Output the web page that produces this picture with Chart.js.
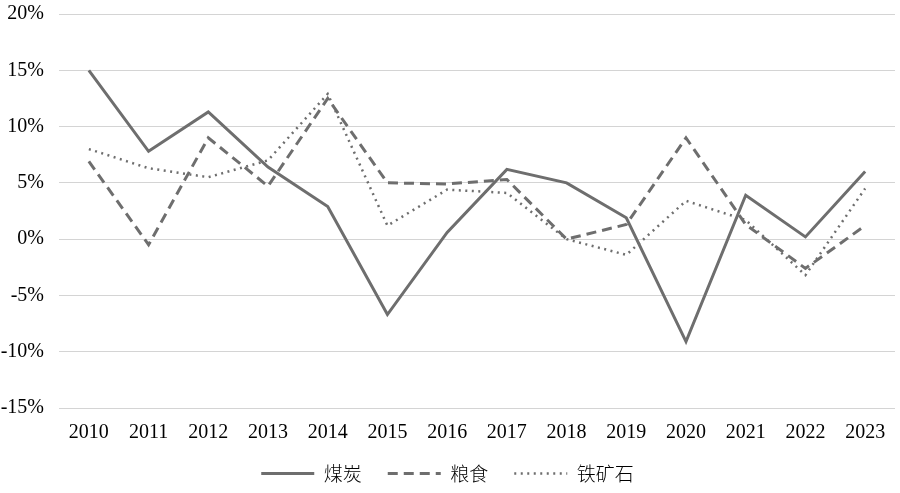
<!DOCTYPE html>
<html lang="zh">
<head>
    <meta charset="UTF-8">
    <title>煤炭、粮食、铁矿石</title>
    <script src="https://cdn.jsdelivr.net/npm/chart.js"></script>
    <style>
        html, body { margin: 0; padding: 0; background: #fff; }
        .wrap { width: 900px; height: 493px; }
    </style>
</head>
<body>
    <div class="wrap"><canvas id="plot"></canvas></div>

    <script>
        // data (%)
        const years = ['2010', '2011', '2012', '2013', '2014', '2015', '2016',
                       '2017', '2018', '2019', '2020', '2021', '2022', '2023'];
        const coal  = [15.0, 7.8, 11.3, 6.4, 2.9, -6.7, 0.6, 6.2, 5.0, 1.9, -9.1, 3.9, 0.2, 6.0];
        const grain = [6.9, -0.5, 9.0, 4.7, 12.5, 5.0, 4.9, 5.3, 0.0, 1.3, 9.0, 1.3, -2.6, 1.2];
        const iron  = [8.0, 6.3, 5.5, 7.0, 12.9, 1.2, 4.4, 4.1, 0.0, -1.4, 3.4, 1.7, -3.2, 4.5];
        const seriesNames = ['煤炭', '粮食', '铁矿石'];
        const yTicks = { min: -15, max: 20, step: 5 };

        const lineGray = '#6e6e6e';
        const fontFamily = '"Liberation Serif", "Noto Sans CJK SC", serif';

        Chart.defaults.font.family = fontFamily;
        Chart.defaults.color = '#000';

        // legend box is a zero-height rect, so its stroke is a dashed line;
        // 53px wide keeps the back-and-forth dashes lined up
        const ctx = document.getElementById('plot').getContext('2d');
        new Chart(ctx, {
            type: 'line',
            data: {
                labels: years,
                datasets: [
                    {
                        label: seriesNames[0],
                        data: coal,
                        borderColor: lineGray,
                        backgroundColor: 'transparent',
                        borderWidth: 3,
                        pointRadius: 0,
                        fill: false
                    },
                    {
                        label: seriesNames[1],
                        data: grain,
                        borderColor: lineGray,
                        backgroundColor: 'transparent',
                        borderWidth: 3,
                        borderDash: [10, 6],
                        pointRadius: 0,
                        fill: false
                    },
                    {
                        label: seriesNames[2],
                        data: iron,
                        borderColor: lineGray,
                        backgroundColor: 'transparent',
                        borderWidth: 2.5,
                        borderDash: [2, 4.5],
                        pointRadius: 0,
                        fill: false
                    }
                ]
            },
            options: {
                responsive: true,
                maintainAspectRatio: false,
                animation: false,
                layout: { padding: { top: 14, right: 5, bottom: 0, left: 0 } },
                plugins: {
                    tooltip: { enabled: false },
                    legend: {
                        position: 'bottom',
                        labels: {
                            boxWidth: 53,
                            boxHeight: 0,
                            padding: 26,
                            color: '#000',
                            font: { family: '"Noto Sans CJK SC", serif', size: 19, weight: 300 }
                        }
                    }
                },
                scales: {
                    x: {
                        offset: true,
                        afterFit: (scale) => { scale.height = 30; },
                        grid: { display: false },
                        border: { display: false },
                        ticks: {
                            color: '#000',
                            padding: 5,
                            maxRotation: 0,
                            font: { size: 20 }
                        }
                    },
                    y: {
                        min: yTicks.min,
                        max: yTicks.max,
                        afterFit: (scale) => {
                            scale.width = 59;
                            scale.paddingTop = 0;
                            scale.paddingBottom = 0;
                        },
                        grid: { color: '#d4d4d4', lineWidth: 1, drawTicks: false },
                        border: { display: false },
                        ticks: {
                            stepSize: yTicks.step,
                            color: '#000',
                            padding: 15,
                            font: { size: 20 },
                            callback: (v) => v + '%'
                        }
                    }
                }
            }
        });
    </script>
</body>
</html>
